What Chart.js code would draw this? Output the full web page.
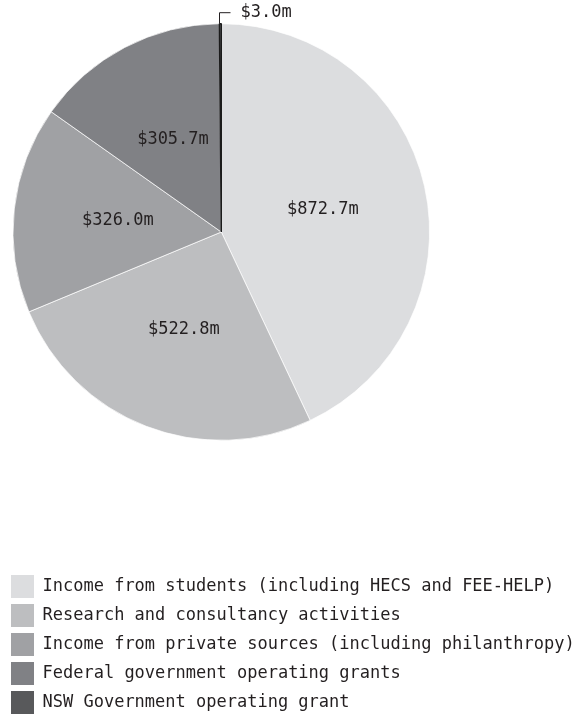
<!DOCTYPE html>
<html lang="en">
<head>
<meta charset="UTF-8">
<title>Revenue by source</title>
<script src="https://cdn.jsdelivr.net/npm/chart.js"></script>
<style>
  body { margin: 0; background: #fff; }
  #revenueChart { display: block; }
</style>
</head>
<body>
<canvas id="revenueChart" width="580" height="715"></canvas>
<script>
const sources = [
  'Income from students (including HECS and FEE-HELP)',
  'Research and consultancy activities',
  'Income from private sources (including philanthropy)',
  'Federal government operating grants',
  'NSW Government operating grant'
];
const amounts = [872.7, 522.8, 326.0, 305.7, 3.0];
const amountLabels = ['$872.7m', '$522.8m', '$326.0m', '$305.7m', '$3.0m'];
const sliceColours = ['#dcdddf', '#bdbec0', '#a0a1a4', '#808185', '#58595b'];
const sliceEdges = ['#ffffff', '#ffffff', '#ffffff', '#ffffff', '#1b1b1b'];
const sliceEdgeWidths = [0.7, 0.7, 0.7, 0.7, 1.4];

const FONT = '"DejaVu Sans Mono", monospace';
const INK = '#231f20';
const total = amounts.reduce((a, b) => a + b, 0);

// keep the pie in the left part of the canvas while the key below uses the full width
const pieArea = {
  id: 'pieArea',
  afterLayout(chart) {
    const area = chart.chartArea;
    area.width = 432.6;
    area.right = area.left + area.width;
  }
};

// amount printed inside each slice; slivers get an elbow leader above the rim
const sliceLabels = {
  id: 'sliceLabels',
  afterDatasetsDraw(chart) {
    const ctx = chart.ctx;
    const arcs = chart.getDatasetMeta(0).data;
    ctx.save();
    ctx.font = '17px ' + FONT;
    ctx.fillStyle = INK;
    ctx.textBaseline = 'middle';
    arcs.forEach((arc, i) => {
      if (amounts[i] / total > 0.05) {
        const p = arc.tooltipPosition();
        ctx.textAlign = 'center';
        ctx.fillText(amountLabels[i], p.x, p.y);
      } else {
        const {x, y, startAngle, endAngle, outerRadius} =
          arc.getProps(['x', 'y', 'startAngle', 'endAngle', 'outerRadius']);
        const mid = (startAngle + endAngle) / 2;
        const ex = Math.round(x + Math.cos(mid) * outerRadius) - 0.5;
        const ey = y + Math.sin(mid) * outerRadius;
        ctx.strokeStyle = INK;
        ctx.lineWidth = 1;
        ctx.beginPath();
        ctx.moveTo(ex, ey);
        ctx.lineTo(ex, ey - 11);
        ctx.lineTo(ex + 11, ey - 11);
        ctx.stroke();
        ctx.textAlign = 'left';
        ctx.fillText(amountLabels[i], ex + 21, ey - 11);
      }
    });
    ctx.restore();
  }
};

new Chart(document.getElementById('revenueChart'), {
  type: 'pie',
  data: {
    labels: sources,
    datasets: [{
      data: amounts,
      backgroundColor: sliceColours,
      borderColor: sliceEdges,
      borderWidth: sliceEdgeWidths
    }]
  },
  options: {
    responsive: false,
    animation: false,
    layout: { padding: { top: 23, left: 5, right: 0, bottom: -9 } },
    plugins: {
      tooltip: { enabled: false },
      legend: {
        position: 'bottom',
        align: 'start',
        // empty title only used as a spacer between the pie and the key
        title: { display: true, text: '', font: { size: 10, lineHeight: 1 }, padding: { top: 118, bottom: 0 } },
        labels: {
          boxWidth: 23,
          boxHeight: 23,
          padding: 6,
          color: INK,
          font: { family: FONT, size: 17 },
          generateLabels(chart) {
            return Chart.overrides.pie.plugins.legend.labels.generateLabels(chart)
              .map(item => Object.assign(item, { lineWidth: 0 }));
          }
        }
      }
    }
  },
  plugins: [pieArea, sliceLabels]
});
</script>
</body>
</html>
